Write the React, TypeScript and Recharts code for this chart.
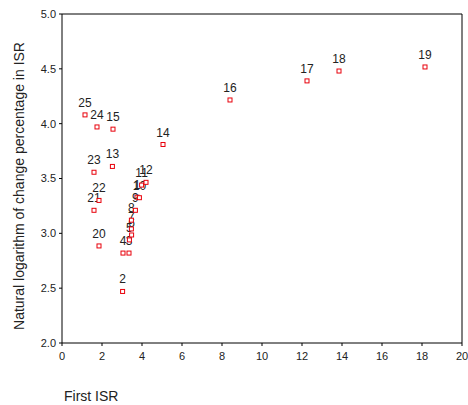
import React from "react";
import { ScatterChart, Scatter, XAxis, YAxis, ReferenceLine, Label } from "recharts";

// case numbers and their values
const caseIds = [1, 2, 3, 4, 5, 6, 7, 8, 9, 10, 11, 12, 13, 14, 15, 16, 17, 18, 19, 20, 21, 22, 23, 24, 25];
const firstIsr = [3.75, 3.03, 3.35, 3.05, 3.37, 3.48, 3.47, 3.47, 3.67, 3.87, 3.98, 4.2, 2.52, 5.05, 2.55, 8.4, 12.25, 13.85, 18.15, 1.85, 1.6, 1.85, 1.6, 1.75, 1.15];
const lnChange = [3.33, 2.47, 2.82, 2.82, 2.94, 2.985, 3.04, 3.12, 3.21, 3.325, 3.44, 3.465, 3.61, 3.81, 3.95, 4.216, 4.39, 4.48, 4.517, 2.885, 3.21, 3.3, 3.557, 3.97, 4.08];

const xTicks = [0, 2, 4, 6, 8, 10, 12, 14, 16, 18, 20];
const yTicks = [2.0, 2.5, 3.0, 3.5, 4.0, 4.5, 5.0];

const data = caseIds.map((id, i) => ({ id, x: firstIsr[i], y: lnChange[i] }));

const font = "'Liberation Sans', Arial, sans-serif";

const Marker = (props: any) => {
  const { cx, cy, payload } = props;
  return (
    <g>
      <rect x={cx - 2} y={cy - 2} width={4} height={4} fill="#fff" stroke="#e8000b" strokeWidth={1} />
      <text x={cx} y={cy - 8} textAnchor="middle" fontSize={12} fontFamily={font} fill="#222">
        {payload.id}
      </text>
    </g>
  );
};

export default function App() {
  return (
    <div style={{ position: "absolute", left: 0, top: 0, background: "#fff" }}>
      <ScatterChart width={468} height={405} margin={{ top: 14, right: 6, bottom: 0, left: 0 }}>
        <XAxis
          type="number"
          dataKey="x"
          domain={[0, 20]}
          ticks={xTicks}
          height={62}
          tickSize={3}
          tickMargin={6}
          stroke="#000"
          tick={{ fill: "#222", fontSize: 11, fontFamily: font }}
        >
          <Label
            content={() => (
              <text x={64} y={401} fontSize={14} fontFamily={font} fill="#222">
                First ISR
              </text>
            )}
          />
        </XAxis>
        <YAxis
          type="number"
          dataKey="y"
          domain={[2, 5]}
          ticks={yTicks}
          width={62}
          tickSize={3}
          tickMargin={3}
          stroke="#000"
          tickFormatter={(v: number) => v.toFixed(1)}
          tick={{ fill: "#222", fontSize: 11, fontFamily: font }}
        >
          <Label
            content={() => (
              <text
                x={24}
                y={186}
                transform="rotate(-90 24 186)"
                textAnchor="middle"
                fontSize={14}
                fontFamily={font}
                fill="#222"
              >
                Natural logarithm of change percentage in ISR
              </text>
            )}
          />
        </YAxis>
        <ReferenceLine x={20} stroke="#000" />
        <ReferenceLine y={5} stroke="#000" />
        <Scatter data={data} shape={Marker} isAnimationActive={false} />
      </ScatterChart>
    </div>
  );
}
